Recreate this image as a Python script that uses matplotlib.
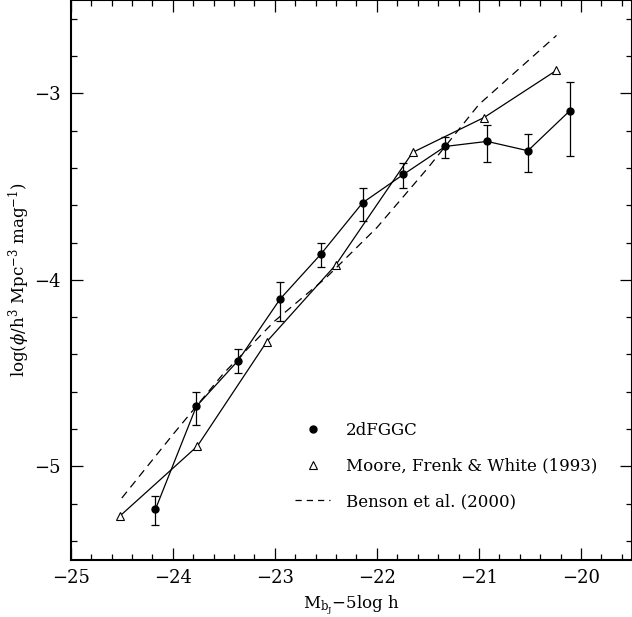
import matplotlib
matplotlib.use('Agg')
import matplotlib.pyplot as plt
from matplotlib.lines import Line2D
from matplotlib.ticker import MultipleLocator
import numpy as np

# 2dFGGC luminosity function
mag_2df = [-24.17, -23.77, -23.36, -22.95, -22.55, -22.14, -21.74, -21.33, -20.92, -20.52, -20.11]
phi_2df = [-5.23, -4.679, -4.433, -4.104, -3.863, -3.587, -3.435, -3.285, -3.258, -3.308, -3.094]
err_lo = [0.084, 0.099, 0.067, 0.117, 0.068, 0.098, 0.072, 0.062, 0.110, 0.116, 0.242]
err_hi = [0.071, 0.079, 0.064, 0.093, 0.060, 0.078, 0.063, 0.052, 0.087, 0.089, 0.154]

# Moore, Frenk & White (1993)
mag_mfw = [-24.52, -23.76, -23.08, -22.40, -21.65, -20.95, -20.24]
phi_mfw = [-5.267, -4.892, -4.332, -3.918, -3.317, -3.13, -2.877]

# Benson et al. (2000)
mag_ben = [-24.5, -24.0, -23.5, -23.0, -22.5, -22.0, -21.5, -21.0, -20.24]
phi_ben = [-5.17, -4.83, -4.50, -4.22, -3.99, -3.72, -3.40, -3.06, -2.69]

plt.rcParams['font.family'] = ['DejaVu Serif']
plt.rcParams['mathtext.fontset'] = 'dejavuserif'

fig = plt.figure(figsize=(6.32, 6.17), dpi=100)
ax = fig.add_axes([0.112, 0.093, 0.888, 0.907])

ax.errorbar(mag_2df, phi_2df, yerr=[err_lo, err_hi], fmt='o', color='black',
            ms=5, lw=0.9, elinewidth=0.9, capsize=2.6, capthick=0.9, ls='-')
ax.plot(mag_mfw, phi_mfw, color='black', lw=0.9, marker='^', ms=5.2,
        mfc='white', mec='black', mew=0.8)
ax.plot(mag_ben, phi_ben, color='black', lw=0.9, ls=(0, (6.5, 4.5)))

ax.set_xlim(-25, -19.5)
ax.set_ylim(-5.5, -2.5)
ax.xaxis.set_major_locator(MultipleLocator(1))
ax.xaxis.set_minor_locator(MultipleLocator(0.2))
ax.yaxis.set_major_locator(MultipleLocator(1))
ax.yaxis.set_minor_locator(MultipleLocator(0.2))
ax.tick_params(which='both', direction='in', top=True, right=True, width=0.9,
               labelsize=13)
ax.tick_params(which='major', length=8.5, pad=7)
ax.tick_params(which='minor', length=4.3)
for sp in ax.spines.values():
    sp.set_linewidth(1.5)

ax.set_xlabel(r'M$_{\mathrm{b_J}}$$-$5log h', fontsize=12, labelpad=4)
ax.set_ylabel(r'log($\phi$/h$^3$ Mpc$^{-3}$ mag$^{-1}$)', fontsize=12, labelpad=2)

handles = [
    Line2D([], [], ls='none', marker='o', color='black', ms=5),
    Line2D([], [], ls='none', marker='^', ms=5.2, mfc='white', mec='black', mew=0.8),
    Line2D([], [], color='black', lw=0.9, ls=(0, (5, 4))),
]
labels = ['2dFGGC', 'Moore, Frenk & White (1993)', 'Benson et al. (2000)']
ax.legend(handles, labels, loc='center left', bbox_to_anchor=(0.40, 0.167),
          frameon=False, fontsize=12, handlelength=2.1, handletextpad=0.95,
          labelspacing=1.1, borderpad=0, borderaxespad=0)

fig.savefig('out.png', dpi=100)
